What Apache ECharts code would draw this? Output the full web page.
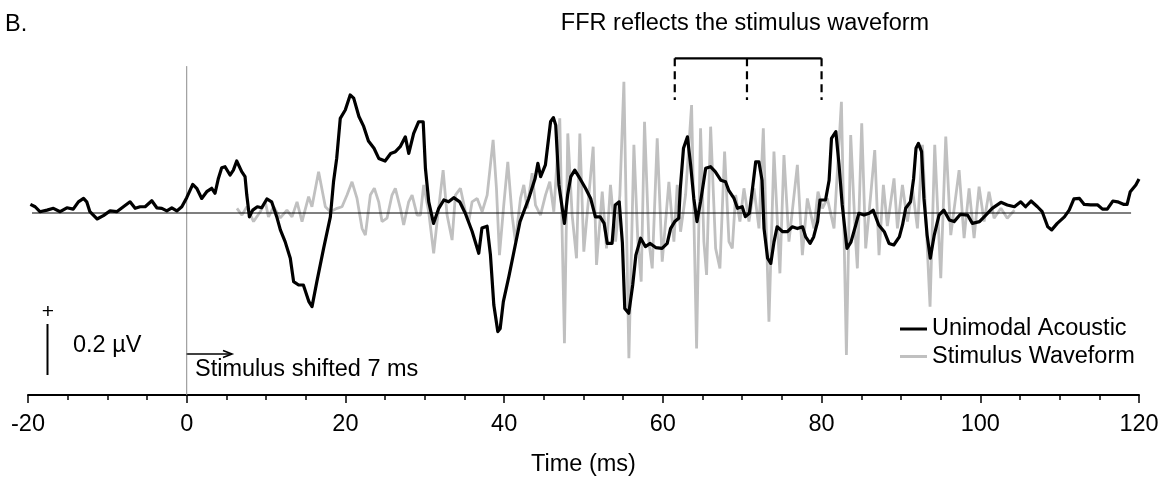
<!DOCTYPE html>
<html><head><meta charset="utf-8">
<script src="https://cdn.jsdelivr.net/npm/echarts@6/dist/echarts.min.js"></script>
<style>html,body{margin:0;padding:0;background:#fff}#c{width:1165px;height:491px}</style>
</head><body><div id="c"></div>
<script>
// ---- data (time in ms, amplitude in microvolts) ----
const acousticTime = [-19.7,-19.1,-18.5,-17.6,-16.8,-15.95,-15.1,-14.3,-13.65,-13.0,-12.6,-12.2,-11.3,-10.5,-9.66,-8.82,-7.98,-7.14,-6.5,-5.87,-5.24,-4.4,-3.77,-3.14,-2.51,-1.88,-1.25,-0.62,0.0,0.76,1.26,1.89,2.52,3.15,3.57,3.99,4.41,4.83,5.46,5.88,6.3,6.93,7.35,7.57,7.9,8.32,8.9,9.45,10.1,10.7,11.35,11.8,12.4,13.05,13.47,14.1,14.7,15.4,15.79,16.4,17.25,18.1,18.5,18.9,19.35,19.98,20.6,21.04,21.7,22.3,22.9,23.6,24.2,25.0,25.7,26.3,26.9,27.55,27.98,28.6,29.23,29.8,30.08,30.5,31.1,31.76,32.4,33.0,33.65,34.4,35.1,35.96,36.8,37.2,37.85,38.27,38.7,39.2,39.5,39.9,40.6,41.2,42.0,43.1,43.9,44.25,44.6,45.2,45.85,46.2,46.5,46.9,47.6,48.0,48.4,48.9,49.6,50.25,50.9,51.5,52.1,52.6,53.0,53.6,54.0,54.5,54.9,55.2,55.7,56.2,56.6,57.2,57.8,58.4,59.1,59.9,60.55,60.97,61.5,62.0,62.2,62.6,63.1,63.5,63.9,64.3,64.75,65.4,66.0,66.6,67.3,67.9,68.3,68.97,69.4,70.0,70.4,70.9,71.3,71.7,72.1,72.5,72.75,73.2,73.6,74.0,74.4,75.1,75.7,76.3,76.95,77.6,78.0,78.55,79.0,79.5,79.8,80.5,80.95,81.25,81.8,82.2,82.6,83.2,83.7,84.3,84.7,85.35,86.0,86.5,87.2,87.9,88.5,89.1,89.8,90.2,90.6,91.2,91.6,91.9,92.2,92.6,92.9,93.3,93.7,94.2,94.8,95.4,96.1,96.7,97.5,98.4,99.0,99.9,100.7,101.5,102.6,103.4,104.3,105.1,105.7,106.4,107.2,107.8,108.5,109.0,109.7,110.6,111.2,111.8,112.5,113.1,113.9,114.8,115.4,116.0,116.7,117.3,118.1,118.5,118.9,119.6,120.0];
const acousticUV = [0.033,0.024,0.005,0.011,0.018,0.005,0.02,0.015,0.043,0.056,0.043,0.005,-0.023,-0.01,0.008,0.005,0.024,0.043,0.018,0.024,0.024,0.047,0.02,0.018,0.008,0.02,0.008,0.024,0.059,0.11,0.095,0.056,0.082,0.095,0.076,0.133,0.174,0.178,0.146,0.165,0.2,0.159,0.14,0.069,-0.015,0.011,0.024,0.02,0.054,0.043,-0.015,-0.065,-0.11,-0.174,-0.264,-0.277,-0.277,-0.341,-0.36,-0.264,-0.136,-0.015,0.12,0.21,0.364,0.396,0.454,0.442,0.371,0.333,0.277,0.249,0.21,0.2,0.229,0.236,0.255,0.293,0.229,0.306,0.351,0.351,0.172,0.043,-0.04,0.018,0.05,0.043,0.059,0.043,-0.001,-0.07,-0.155,-0.058,-0.051,-0.16,-0.354,-0.456,-0.444,-0.341,-0.244,-0.154,-0.033,0.056,0.133,0.191,0.14,0.185,0.351,0.367,0.338,0.108,-0.04,0.069,0.14,0.165,0.13,0.095,0.056,-0.015,-0.015,-0.04,-0.117,-0.117,0.031,0.043,-0.115,-0.367,-0.386,-0.277,-0.162,-0.097,-0.129,-0.117,-0.133,-0.136,-0.117,-0.06,-0.033,-0.02,0.095,0.249,0.293,0.185,0.056,-0.033,0.043,0.172,0.178,0.159,0.126,0.12,0.087,0.056,0.018,0.024,-0.014,-0.001,0.095,0.197,0.197,0.126,-0.06,-0.174,-0.194,-0.112,-0.053,-0.072,-0.072,-0.053,-0.06,-0.053,-0.092,-0.117,-0.092,-0.033,0.05,0.05,0.126,0.287,0.313,0.185,0.031,-0.136,-0.112,-0.047,-0.001,-0.008,-0.001,0.011,-0.046,-0.072,-0.117,-0.123,-0.092,-0.046,0.018,0.043,0.133,0.249,0.268,0.236,0.056,-0.085,-0.174,-0.085,-0.008,0.011,-0.027,-0.033,-0.005,-0.008,-0.04,-0.033,-0.008,0.018,0.041,0.031,0.024,0.043,0.024,0.046,0.024,0.005,-0.053,-0.065,-0.04,-0.015,0.011,0.054,0.056,0.033,0.031,0.031,0.015,0.015,0.046,0.043,0.033,0.033,0.082,0.108,0.131];
const stimTime = [6.33,6.96,7.59,8.42,9.27,9.9,10.3,10.95,11.79,12.63,13.27,13.9,14.53,15.36,15.78,16.62,17.47,18.1,18.94,19.57,20.2,20.83,21.46,22.09,22.51,23.14,23.64,24.19,24.61,25.24,25.87,26.29,26.92,27.34,27.97,28.4,29.03,29.45,29.86,30.49,31.12,31.55,32.31,32.81,33.44,33.86,34.49,35.12,35.54,35.96,36.6,37.23,37.86,38.61,39.03,39.41,39.95,40.46,41.0,41.42,42.06,42.48,42.9,43.53,43.95,44.58,45.21,45.75,46.26,47.01,47.6,48.02,48.57,49.12,49.54,50.04,51.22,51.64,52.36,52.9,53.4,54.04,54.58,55.09,55.72,56.35,56.85,57.27,57.69,58.24,58.66,59.29,59.92,60.76,61.39,61.81,62.23,62.86,63.62,64.25,64.75,65.17,65.51,66.02,66.65,67.19,67.78,68.33,68.75,69.17,69.71,70.22,70.85,71.48,72.11,72.66,73.37,74.0,74.75,75.26,75.89,76.95,77.58,78.21,79.04,79.55,80.1,80.73,81.57,82.5,83.13,83.67,84.3,84.51,85.06,85.56,86.19,86.7,87.24,87.79,88.29,89.13,89.56,90.19,90.82,91.45,92.08,92.71,93.67,94.26,95.02,95.65,96.28,96.82,97.33,97.96,98.59,99.22,99.85,100.48,101.1,101.74,102.6,103.4,104.3];
const stimUV = [0.018,-0.008,0.024,-0.033,0.005,0.043,-0.015,0.024,-0.019,0.011,-0.015,0.043,-0.033,0.063,0.024,0.159,0.024,0.005,0.018,0.024,0.069,0.12,0.056,-0.059,-0.085,0.069,0.095,0.043,-0.033,-0.02,0.069,0.095,0.018,-0.046,0.043,0.069,-0.008,-0.008,0.108,0.005,-0.155,-0.033,0.165,-0.008,-0.104,0.069,0.095,0.005,-0.033,0.043,0.056,0.005,0.069,0.281,0.095,-0.162,0.03,0.197,-0.008,-0.11,0.056,0.108,0.018,0.153,0.03,-0.008,0.069,0.12,0.005,0.364,-0.501,0.306,-0.008,-0.174,0.306,-0.149,0.255,-0.2,0.082,-0.136,0.108,-0.11,0.069,0.505,-0.559,0.262,-0.11,-0.264,0.351,-0.11,-0.213,0.287,-0.187,0.12,-0.11,0.108,-0.072,0.069,0.415,-0.521,0.326,-0.11,-0.238,0.332,-0.136,-0.213,0.236,-0.11,-0.136,0.069,-0.033,0.095,-0.033,0.095,-0.059,0.326,-0.418,0.236,-0.232,0.223,-0.11,0.185,-0.162,0.056,-0.059,0.082,0.018,0.056,-0.059,0.428,-0.546,0.3,-0.11,-0.213,0.345,-0.136,0.069,0.242,-0.162,0.108,-0.05,0.133,-0.059,0.108,-0.033,0.095,-0.059,0.262,-0.36,0.262,-0.251,0.294,-0.085,0.043,0.165,-0.097,0.095,-0.097,0.101,-0.033,0.082,-0.02,0.018,-0.02,0.011];
const xTickLabels = ['-20','0','20','40','60','80','100','120'];
const baselineSpan = [-19.5, 119.0];
const onsetLine = [0.565, -0.7];
const bracketTimes = [61.5, 70.6, 80.0];
const bracketLevels = [0.595, 0.435];

const zip = (a, b) => a.map((v, i) => [v, b[i]]);
const FONT = '"Liberation Sans", Arial, sans-serif';
const FS = 23.5;

const chart = echarts.init(document.getElementById('c'), null, {renderer: 'canvas'});

const series = [
  {name: 'onset', type: 'line', data: [[0, onsetLine[0]], [0, onsetLine[1]]], symbol: 'none', silent: true,
   lineStyle: {color: '#8c8c8c', width: 1}, z: 1},
  {name: 'Stimulus Waveform', type: 'line', data: zip(stimTime, stimUV), symbol: 'none',
   lineStyle: {color: '#c0c0c0', width: 2.8}, itemStyle: {color: '#c0c0c0'}, z: 2},
  {name: 'baseline', type: 'line', data: [[baselineSpan[0], 0], [baselineSpan[1], 0]], symbol: 'none', silent: true,
   lineStyle: {color: '#000', width: 1.2}, z: 3},
  {name: 'Unimodal Acoustic', type: 'line', data: zip(acousticTime, acousticUV), symbol: 'none',
   lineStyle: {color: '#000', width: 3.2, join: 'round'}, itemStyle: {color: '#000'}, z: 4},
  {name: 'bracket', type: 'line', data: [[bracketTimes[0], bracketLevels[0]], [bracketTimes[2], bracketLevels[0]]],
   symbol: 'none', silent: true, lineStyle: {color: '#000', width: 2.2}, z: 5}
];
bracketTimes.forEach((t, i) => series.push({
  name: 'bracketTick' + i, type: 'line', data: [[t, bracketLevels[0]], [t, bracketLevels[1]]], symbol: 'none', silent: true,
  lineStyle: {color: '#000', width: 2.2, type: [8, 5]}, z: 5
}));

chart.setOption({
  animation: false,
  backgroundColor: '#fff',
  grid: {left: 28, right: 26, top: 31, bottom: 96},
  xAxis: {
    type: 'value', min: -20, max: 120, interval: 20,
    axisLine: {onZero: false, lineStyle: {color: '#000', width: 2}},
    axisTick: {show: true, length: 8, lineStyle: {color: '#000', width: 1.5}},
    minorTick: {show: true, splitNumber: 4, length: 5, lineStyle: {color: '#000', width: 1.5}},
    splitLine: {show: false},
    axisLabel: {color: '#000', fontSize: FS, fontFamily: FONT, margin: 18,
      formatter: v => xTickLabels[Math.round((v + 20) / 20)]},
    name: 'Time (ms)', nameLocation: 'middle', nameGap: 58,
    nameTextStyle: {color: '#000', fontSize: FS, fontFamily: FONT}
  },
  yAxis: {type: 'value', min: -0.7, max: 0.7, show: false},
  legend: {
    data: ['Unimodal Acoustic', 'Stimulus Waveform'],
    orient: 'vertical', left: 900, top: 317, padding: 0, itemGap: 3.5,
    icon: 'rect', itemWidth: 27, itemHeight: 3,
    textStyle: {color: '#000', fontSize: FS, fontFamily: FONT}
  },
  series: series,
  graphic: [
    {type: 'text', x: 5, y: 25, style: {text: 'B.', fontSize: FS, fontFamily: FONT, fill: '#000', textVerticalAlign: 'middle'}},
    {type: 'text', x: 745, y: 24, style: {text: 'FFR reflects the stimulus waveform', fontSize: FS, fontFamily: FONT,
      fill: '#000', textAlign: 'center', textVerticalAlign: 'middle'}},
    {type: 'text', x: 48, y: 312, style: {text: '+', fontSize: 21, fontFamily: FONT, fill: '#000',
      textAlign: 'center', textVerticalAlign: 'middle'}},
    {type: 'line', shape: {x1: 47.5, y1: 324, x2: 47.5, y2: 375}, style: {stroke: '#000', lineWidth: 2}},
    {type: 'text', x: 73, y: 346, style: {text: '0.2 µV', fontSize: FS, fontFamily: FONT, fill: '#000',
      textVerticalAlign: 'middle'}},
    {type: 'line', shape: {x1: 186, y1: 354, x2: 231.5, y2: 354}, style: {stroke: '#000', lineWidth: 1.6}},
    {type: 'polyline', shape: {points: [[223, 350.5], [232, 354], [223, 357.5]]}, style: {stroke: '#000', lineWidth: 1.6, fill: null}},
    {type: 'text', x: 195, y: 370, style: {text: 'Stimulus shifted 7 ms', fontSize: FS, fontFamily: FONT, fill: '#000',
      textVerticalAlign: 'middle'}}
  ]
});
</script>
</body></html>
